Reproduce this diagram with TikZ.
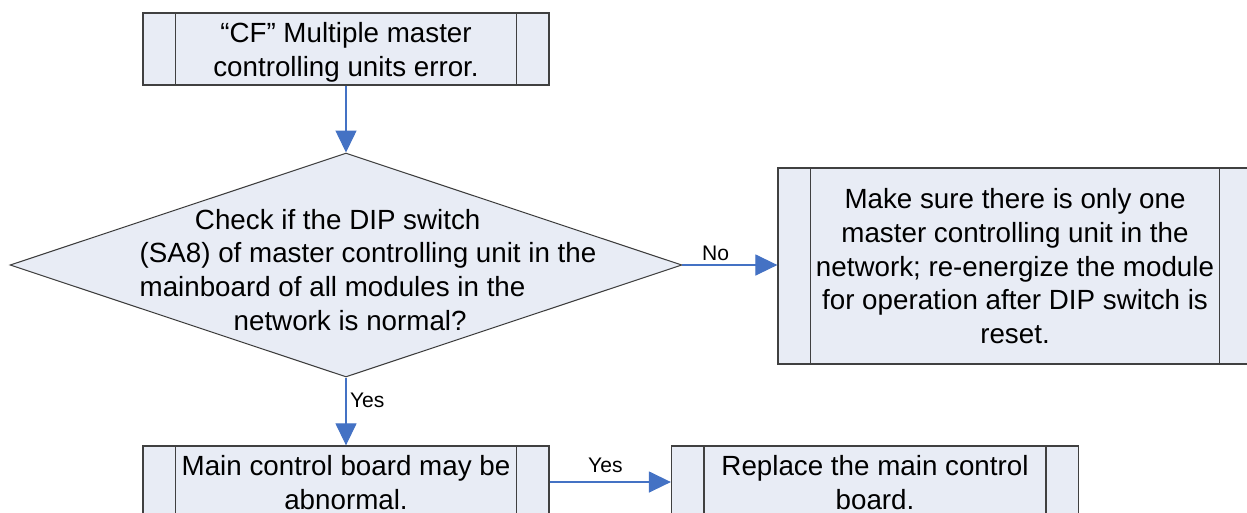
\documentclass[tikz,border=0pt]{standalone}
\usepackage{fontspec}
\setmainfont{Liberation Sans}
\usepackage{xcolor}
\definecolor{boxfill}{RGB}{232,236,245}
\definecolor{boxline}{RGB}{64,64,64}
\definecolor{flowblue}{RGB}{68,114,196}
\usepackage{tikz}
\usetikzlibrary{positioning, arrows.meta, shapes.geometric}

\begin{document}
\begin{tikzpicture}[x=0.02cm, y=-0.02cm,
  procbox/.style={draw=boxline, fill=boxfill, line width=0.8pt,
                 minimum width=8.12cm, minimum height=1.44cm, inner sep=0pt,
                 font=\fontsize{15.8}{19.3}\selectfont, align=center, text depth=0pt,
                 path picture={\draw[boxline, line width=0.8pt]
                   ([xshift=0.65cm]path picture bounding box.north west) -- ([xshift=0.65cm]path picture bounding box.south west)
                   ([xshift=-0.65cm]path picture bounding box.north east) -- ([xshift=-0.65cm]path picture bounding box.south east);}},
  decision/.style={diamond, draw=boxline, fill=boxfill, line width=0.6pt,
                  minimum width=13.44cm, minimum height=4.48cm, inner sep=0pt},
  checktext/.style={font=\fontsize{15.8}{19.3}\selectfont, align=left, inner sep=0pt},
  flow/.style={draw=flowblue, line width=0.6pt, -{Triangle[length=12.5pt, width=12pt]}},
  lbl/.style={font=\fontsize{12}{14}\selectfont, inner sep=2pt},
]
\path[use as bounding box] (0,0) rectangle (1247,512);
\clip (0,0) rectangle (1247,512);

% Start
\node[procbox] (cferr) at (346, 49) {“CF” Multiple master\\controlling units error.};

% Decision
\node[decision] (check) at (346, 265) {};
\node[checktext] (checktxt) at (368, 270) {\hspace*{31.5pt}Check if the DIP switch\\(SA8) of master controlling unit in the\\mainboard of all modules in the\\\hspace*{53.5pt}network is normal?};

% Outcomes
\node[procbox, minimum width=9.48cm, minimum height=3.92cm] (onlyone) at (1015, 266)
  {Make sure there is only one\\master controlling unit in the\\network; re-energize the module\\for operation after DIP switch is\\reset.};
\node[procbox] (mainbad) at (346, 482) {Main control board may be\\abnormal.};
\node[procbox, minimum width=8.14cm] (replace) at (875, 482) {Replace the main control\\board.};

% Connectors
\draw[flow] (cferr) -- (check);
\draw[flow] (check.east) -- (check.east -| onlyone.west) node[lbl, above, pos=0.35] {No};
\draw[flow] (check) -- (mainbad) node[lbl, right, pos=0.34] {Yes};
\draw[flow] (mainbad) -- (replace) node[lbl, above, pos=0.46, yshift=3pt] {Yes};
\end{tikzpicture}
\end{document}
